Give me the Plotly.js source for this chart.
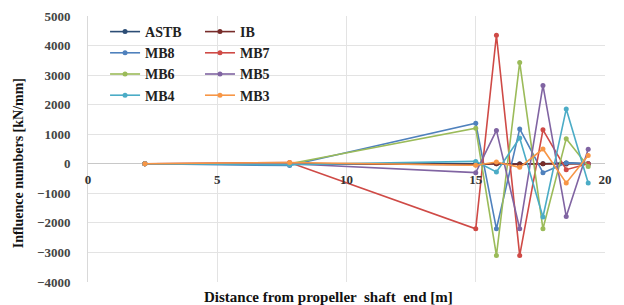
<!DOCTYPE html>
<html>
<head>
<meta charset="utf-8">
<script src="https://cdn.plot.ly/plotly-3.0.1.min.js"></script>
<style>html,body{margin:0;padding:0;background:#fff;}#chart{width:624px;height:305px;}</style>
</head>
<body>
<div id="chart"></div>
<script>
// Distance from propeller shaft end [m]
const distance = [2.2, 7.8, 15.0, 15.8, 16.7, 17.6, 18.5, 19.35];

// Influence numbers [kN/mm]
const ASTB = [0, 0, 20, 0, 0, 0, 30, 0];
const IB   = [0, 10, -30, 0, -20, 0, -10, 0];
const MB8  = [0, -60, 1370, -2200, 1180, -300, 30, 0];
const MB7  = [0, 45, -2200, 4350, -3100, 1150, -200, 0];
const MB6  = [0, 0, 1200, -3100, 3430, -2200, 850, -90];
const MB5  = [0, 0, -300, 1130, -2200, 2650, -1780, 490];
const MB4  = [0, -30, 80, -280, 870, -1800, 1850, -650];
const MB3  = [0, 45, -50, 60, -120, 500, -650, 280];

const seriesNames = ['ASTB', 'IB', 'MB8', 'MB7', 'MB6', 'MB5', 'MB4', 'MB3'];
const seriesValues = [ASTB, IB, MB8, MB7, MB6, MB5, MB4, MB3];
const seriesColors = ['#2C4D75', '#772C2A', '#4F81BD', '#CF4A46', '#9BBB59', '#8064A2', '#4BACC6', '#F79646'];

const serif = 'Liberation Serif';

const traces = seriesNames.map((name, i) => ({
  type: 'scatter',
  mode: 'lines+markers',
  name: name,
  x: distance,
  y: seriesValues[i],
  line: {color: seriesColors[i], width: 1.6},
  marker: {color: seriesColors[i], size: 5},
  legend: i % 2 === 0 ? 'legend' : 'legend2',
  legendgroup: 'g' + i
}));

const legendFont = {family: serif, size: 14, color: '#222', weight: 'bold'};

const layout = {
  width: 624,
  height: 305,
  margin: {l: 88, r: 19, t: 16, b: 23},
  paper_bgcolor: '#fff',
  plot_bgcolor: '#fff',
  showlegend: true,
  xaxis: {
    range: [0, 20],
    dtick: 5,
    tick0: 0,
    showgrid: true,
    gridcolor: '#e3e3e3',
    gridwidth: 1,
    zeroline: false,
    showline: false,
    anchor: 'free',
    position: 4000 / 9000,
    ticks: '',
    ticklabelstandoff: 6,
    tickfont: {family: serif, size: 13, color: '#333', weight: 'bold'}
  },
  yaxis: {
    range: [-4000, 5000],
    dtick: 1000,
    tick0: 0,
    showgrid: true,
    gridcolor: '#e3e3e3',
    gridwidth: 1,
    zeroline: true,
    zerolinecolor: '#c8c8c8',
    zerolinewidth: 1,
    showline: true,
    linecolor: '#d9d9d9',
    ticks: '',
    ticklabelstandoff: 14,
    tickfont: {family: serif, size: 13, color: '#444', weight: 'bold'}
  },
  legend: {
    x: 0.033, y: 1.0, xanchor: 'left', yanchor: 'top',
    bgcolor: 'rgba(0,0,0,0)', borderwidth: 0,
    font: legendFont, tracegroupgap: 4, traceorder: 'normal'
  },
  legend2: {
    x: 0.2166, y: 1.0, xanchor: 'left', yanchor: 'top',
    bgcolor: 'rgba(0,0,0,0)', borderwidth: 0,
    font: legendFont, tracegroupgap: 4, traceorder: 'normal'
  },
  annotations: [
    {
      text: 'Distance from propeller  shaft  end [m]',
      xref: 'paper', yref: 'paper',
      x: 0.466, y: -0.058, xanchor: 'center', yanchor: 'middle',
      showarrow: false,
      font: {family: serif, size: 15, color: '#111', weight: 'bold'}
    },
    {
      text: 'Influence numbers [kN/mm]',
      xref: 'paper', yref: 'paper',
      x: -0.135, y: 0.447, xanchor: 'center', yanchor: 'middle',
      textangle: -90,
      showarrow: false,
      font: {family: serif, size: 14, color: '#111', weight: 'bold'}
    }
  ]
};

Plotly.newPlot('chart', traces, layout, {displayModeBar: false, staticPlot: true});
</script>
</body>
</html>
